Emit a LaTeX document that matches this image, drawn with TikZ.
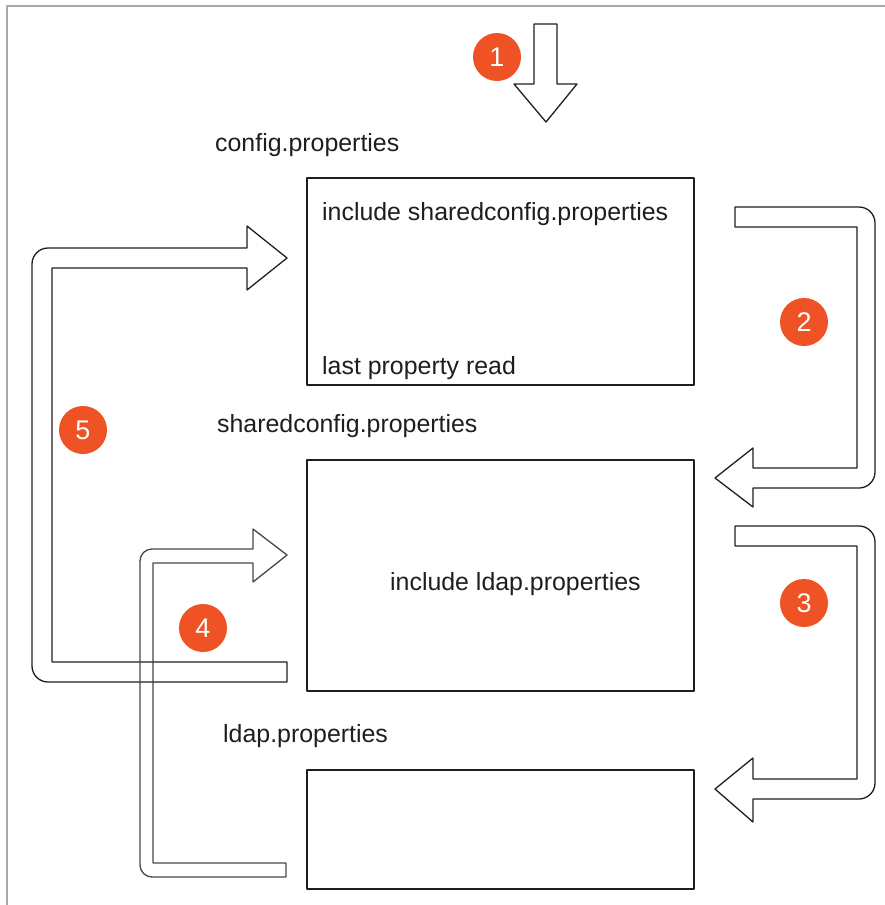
\documentclass[tikz,border=0pt]{standalone}
\usepackage{fontspec}
\setmainfont{Liberation Sans}
\usetikzlibrary{positioning}
\definecolor{badgeorange}{HTML}{EF5224}
\definecolor{framegray}{HTML}{A8A8A8}
\definecolor{inkgray}{HTML}{1E1E1E}

\begin{document}
\begin{tikzpicture}[line cap=round,line join=round,x=1pt,y=-1pt,
  propbox/.style={draw=inkgray,line width=1.4pt,minimum width=387pt,inner sep=0pt},
  proplabel/.style={anchor=west,inner sep=0pt,text=inkgray,font=\fontsize{24.9}{29}\selectfont},
  badge/.style={circle,fill=badgeorange,minimum size=48pt,inner sep=0pt,text=white,font=\fontsize{27}{32}\selectfont},
  blockarrow/.style={draw=inkgray,line width=1.3pt}]
\useasboundingbox (0,0) rectangle (885,905);
% frame
\draw[framegray,line width=2pt,line cap=butt] (7,905)--(7,6)--(885,6);
% boxes
\node[propbox,minimum height=207pt] (cfgbox) at (500.5,281.5) {};
\node[propbox,minimum height=231pt] (sharedbox) at (500.5,575.5) {};
\node[propbox,minimum height=119pt] (ldapbox) at (500.5,829.5) {};
% labels
\node[proplabel] (cfglabel) at (215,145) {config.properties};
\node[proplabel] (sharedlabel) at (217,426) {sharedconfig.properties};
\node[proplabel] (ldaplabel) at (223,736) {ldap.properties};
\node[proplabel] (cfginclude) at (322,214) {include sharedconfig.properties};
\node[proplabel] (cfglast) at (322,368) {last property read};
\node[proplabel] (sharedinclude) at (390,584) {include ldap.properties};
% step 1
\draw[blockarrow] (534,24)--(557,24)--(557,84)--(577,84)--(546,122)--(514,84)--(534,84)--cycle;
% step 2
\draw[blockarrow] (735,207) [rounded corners=16pt] -- (875,207) -- (875,488) [sharp corners] -- (753,488)
  -- (753,507) -- (715,478) -- (753,448) -- (753,468) -- (857,468) -- (857,227) -- (735,227) -- cycle;
% step 3
\draw[blockarrow] (735,526) [rounded corners=16pt] -- (875,526) -- (875,799) [sharp corners] -- (753,799)
  -- (753,822) -- (715,789) -- (753,758) -- (753,779) -- (857,779) -- (857,546) -- (735,546) -- cycle;
% step 5
\draw[blockarrow] (287,662) -- (52,662) -- (52,268) -- (247,268) -- (247,290) -- (287,258) -- (247,226)
  -- (247,248) [rounded corners=16pt] -- (32,248) -- (32,682) [sharp corners] -- (287,682) -- cycle;
% step 4
\draw[blockarrow,draw=black!72] (286,863) -- (153,863) -- (153,563) -- (253,563) -- (253,582) -- (287,555)
  -- (253,529) -- (253,549) [rounded corners=12pt] -- (140,549) -- (140,877) [sharp corners] -- (286,877) -- cycle;
% badges
\node[badge] (badge1) at (497,57) {1};
\node[badge] (badge2) at (804,322) {2};
\node[badge] (badge3) at (804,603) {3};
\node[badge] (badge4) at (203,628) {4};
\node[badge] (badge5) at (83,430) {5};
\end{tikzpicture}
\end{document}
